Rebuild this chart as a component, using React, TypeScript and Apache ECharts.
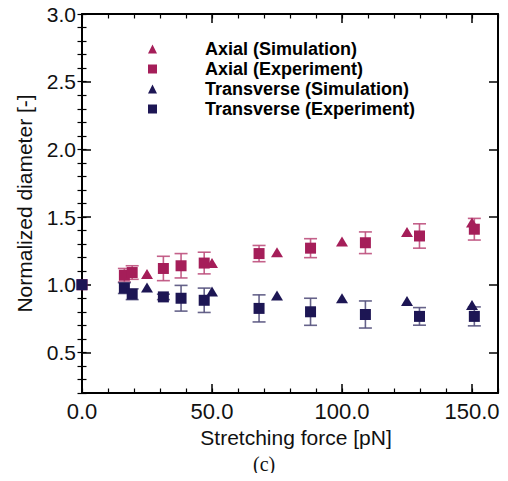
import React, { useEffect, useRef } from "react";
import * as echarts from "echarts";

const FONT = "'Liberation Sans', Arial, Helvetica, sans-serif";
const AXIAL = "#A51E59";
const TRANS = "#1D1654";
const AXIAL_ERR = "rgba(190, 80, 125, 0.9)";
const TRANS_ERR = "rgba(85, 82, 125, 0.9)";

const seriesNames = [
  "Axial (Simulation)",
  "Axial (Experiment)",
  "Transverse (Simulation)",
  "Transverse (Experiment)",
];

// Simulation data
const simForce = [25, 50, 75, 100, 125, 150];
const axialSim = [1.08, 1.16, 1.24, 1.32, 1.39, 1.46];
const transSim = [0.98, 0.95, 0.92, 0.9, 0.88, 0.85];

// Experiment data
const expForce = [0, 16.3, 19.3, 31.3, 38.1, 47.0, 68.1, 87.9, 109.0, 129.8, 150.9];
const axialExp = [1.0, 1.07, 1.09, 1.12, 1.14, 1.16, 1.23, 1.27, 1.31, 1.36, 1.41];
const axialErr = [0, 0.05, 0.05, 0.09, 0.09, 0.08, 0.06, 0.07, 0.08, 0.09, 0.08];
const transExp = [1.0, 0.975, 0.93, 0.91, 0.9, 0.885, 0.825, 0.8, 0.78, 0.766, 0.766];
const transErr = [0, 0.04, 0.04, 0.02, 0.095, 0.09, 0.1, 0.1, 0.1, 0.065, 0.07];

// Axis ticks
const xMajorTicks = [0, 50, 100, 150];
const yMajorTicks = [0.5, 1.0, 1.5, 2.0, 2.5, 3.0];

function pairs(xs: number[], ys: number[]) {
  return xs.map((x, i) => [x, ys[i]]);
}

function errData(xs: number[], ys: number[], es: number[]) {
  return xs
    .map((x, i) => [x, ys[i] - es[i], ys[i] + es[i]])
    .filter((d, i) => es[i] > 0);
}

function errorRender(color: string) {
  return (params: any, api: any) => {
    const x = api.value(0);
    const lo = api.coord([x, api.value(1)]);
    const hi = api.coord([x, api.value(2)]);
    const hw = 6.5;
    const style = { stroke: color, lineWidth: 1.6, fill: "none" };
    return {
      type: "group",
      children: [
        { type: "line", shape: { x1: lo[0], y1: lo[1], x2: hi[0], y2: hi[1] }, style },
        { type: "line", shape: { x1: lo[0] - hw, y1: lo[1], x2: lo[0] + hw, y2: lo[1] }, style },
        { type: "line", shape: { x1: hi[0] - hw, y1: hi[1], x2: hi[0] + hw, y2: hi[1] }, style },
      ],
    };
  };
}

export default function App() {
  const ref = useRef<HTMLDivElement>(null);

  useEffect(() => {
    if (!ref.current) return;
    const chart = echarts.init(ref.current, null, { renderer: "svg" });

    const lineStyle = { color: "#000", width: 2 };
    const baseX = {
      type: "value",
      min: 0,
      max: 160,
      splitLine: { show: false },
    };
    const baseY = {
      type: "value",
      min: 0.2,
      max: 3.0,
      splitLine: { show: false },
    };

    const option: any = {
      animation: false,
      backgroundColor: "#fff",
      grid: { left: 82, right: 10, top: 14, bottom: 88, containLabel: false },
      legend: {
        orient: "vertical",
        left: 143,
        top: 35,
        itemWidth: 9,
        itemHeight: 9,
        itemGap: 2,
        data: seriesNames,
        textStyle: {
          fontFamily: FONT,
          fontSize: 18,
          fontWeight: "bold",
          color: "#000",
          lineHeight: 17,
          padding: [0, 0, 0, 43],
        },
      },
      xAxis: [
        {
          ...baseX,
          position: "bottom",
          name: "Stretching force [pN]",
          nameLocation: "middle",
          nameGap: 31,
          nameTextStyle: { fontFamily: FONT, fontSize: 21, color: "#111", padding: [0, 0, 0, 12] },
          axisLine: { show: true, onZero: false, lineStyle },
          axisTick: { show: true, inside: true, length: 9, lineStyle: { color: "#000", width: 1.5 }, customValues: xMajorTicks },
          axisLabel: {
            fontFamily: FONT,
            fontSize: 22,
            color: "#111",
            margin: 7,
            customValues: xMajorTicks,
            formatter: (v: number) => v.toFixed(1),
          },
        },
        {
          ...baseX,
          position: "bottom",
          interval: 10,
          axisLine: { show: false },
          axisTick: { show: true, inside: true, length: 4.5, lineStyle: { color: "#000", width: 1.2 } },
          axisLabel: { show: false },
        },
        {
          ...baseX,
          position: "top",
          axisLine: { show: true, onZero: false, lineStyle },
          axisTick: { show: true, inside: true, length: 9, lineStyle: { color: "#000", width: 1.5 }, customValues: xMajorTicks },
          axisLabel: { show: false },
        },
        {
          ...baseX,
          position: "top",
          interval: 10,
          axisLine: { show: false },
          axisTick: { show: true, inside: true, length: 4.5, lineStyle: { color: "#000", width: 1.2 } },
          axisLabel: { show: false },
        },
      ],
      yAxis: [
        {
          ...baseY,
          position: "left",
          name: "Normalized diameter [-]",
          nameLocation: "middle",
          nameGap: 47,
          nameRotate: 90,
          nameTextStyle: { fontFamily: FONT, fontSize: 21, color: "#111" },
          axisLine: { show: true, onZero: false, lineStyle },
          axisTick: { show: true, inside: true, length: 9, lineStyle: { color: "#000", width: 1.5 }, customValues: yMajorTicks },
          axisLabel: {
            fontFamily: FONT,
            fontSize: 21,
            color: "#111",
            margin: 6,
            customValues: yMajorTicks,
            formatter: (v: number) => v.toFixed(1),
          },
        },
        {
          ...baseY,
          position: "left",
          interval: 0.1,
          axisLine: { show: false },
          axisTick: { show: true, inside: true, length: 4.5, lineStyle: { color: "#000", width: 1.2 } },
          axisLabel: { show: false },
        },
        {
          ...baseY,
          position: "right",
          axisLine: { show: true, onZero: false, lineStyle },
          axisTick: { show: true, inside: true, length: 9, lineStyle: { color: "#000", width: 1.5 }, customValues: yMajorTicks },
          axisLabel: { show: false },
        },
        {
          ...baseY,
          position: "right",
          interval: 0.1,
          axisLine: { show: false },
          axisTick: { show: true, inside: true, length: 4.5, lineStyle: { color: "#000", width: 1.2 } },
          axisLabel: { show: false },
        },
      ],
      graphic: [
        {
          type: "text",
          left: 253,
          top: 453,
          style: {
            text: "(c)",
            fontFamily: "'Liberation Serif', 'Times New Roman', serif",
            fontSize: 20,
            lineHeight: 21,
            fill: "#111",
          },
        },
      ],
      series: [
        {
          type: "custom",
          name: "axialErr",
          renderItem: errorRender(AXIAL_ERR),
          data: errData(expForce, axialExp, axialErr),
          encode: { x: 0, y: [1, 2] },
          clip: false,
          z: 1,
        },
        {
          type: "custom",
          name: "transErr",
          renderItem: errorRender(TRANS_ERR),
          data: errData(expForce, transExp, transErr),
          encode: { x: 0, y: [1, 2] },
          clip: false,
          z: 1,
        },
        {
          type: "scatter",
          name: seriesNames[0],
          symbol: "triangle",
          symbolSize: [12, 10],
          itemStyle: { color: AXIAL, opacity: 1 },
          data: pairs(simForce, axialSim),
          clip: false,
          z: 3,
        },
        {
          type: "scatter",
          name: seriesNames[1],
          symbol: "rect",
          symbolSize: 11,
          itemStyle: { color: AXIAL, opacity: 1 },
          data: pairs(expForce, axialExp),
          clip: false,
          z: 3,
        },
        {
          type: "scatter",
          name: seriesNames[2],
          symbol: "triangle",
          symbolSize: [12, 10],
          itemStyle: { color: TRANS, opacity: 1 },
          data: pairs(simForce, transSim),
          clip: false,
          z: 4,
        },
        {
          type: "scatter",
          name: seriesNames[3],
          symbol: "rect",
          symbolSize: 11,
          itemStyle: { color: TRANS, opacity: 1 },
          data: pairs(expForce, transExp),
          clip: false,
          z: 4,
        },
      ],
    };

    chart.setOption(option);
    return () => chart.dispose();
  }, []);

  return <div ref={ref} style={{ width: 508, height: 481, margin: -8 }} />;
}
